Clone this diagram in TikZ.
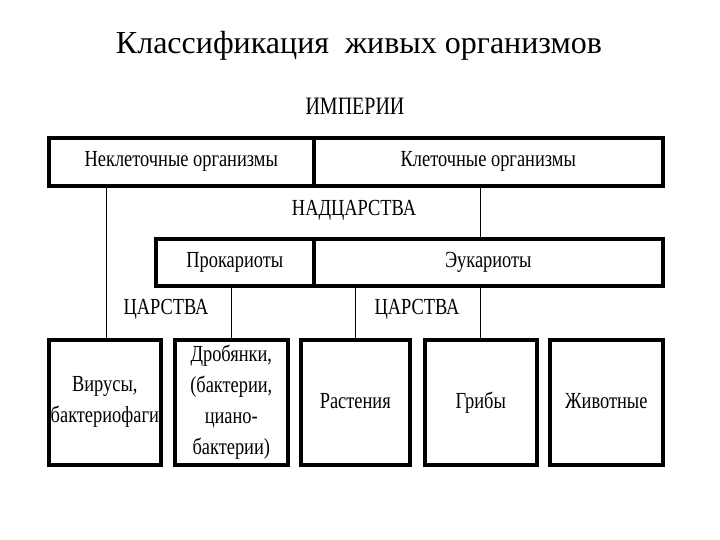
\documentclass[tikz,border=0pt]{standalone}
\usepackage{fontspec}
\setmainfont{Liberation Serif}
\newfontfamily\diagfont[FakeStretch=0.8]{Liberation Serif}
\begin{document}
\begin{tikzpicture}[x=1pt,y=-1pt,
  box/.style={draw=black, line width=3.6pt, inner sep=0pt, align=center, anchor=north west,
    font=\diagfont\fontsize{23}{31}\selectfont},
  lbl/.style={inner sep=0pt, font=\diagfont\fontsize{23}{26}\selectfont},
  conn/.style={draw=black, line width=1.3pt}]
\useasboundingbox (0,0) rectangle (720,540);
\node[font=\fontsize{32}{36}\selectfont] (title) at (359,46) {Классификация\ \ живых организмов};
\node[lbl, font=\diagfont\fontsize{25}{28}\selectfont] (imp) at (355,106) {ИМПЕРИИ};
% top row
\node[box, minimum width=265pt, minimum height=48pt] (noncell) at (47,136) {Неклеточные организмы};
\node[box, minimum width=349pt, minimum height=48pt] (cell) at (312,136) {Клеточные организмы};
\node[lbl] (nadc) at (354,210) {НАДЦАРСТВА};
% second row
\node[box, minimum width=158pt, minimum height=47pt] (prok) at (154,237) {Прокариоты};
\node[box, minimum width=349pt, minimum height=47pt] (euk) at (312,237) {Эукариоты};
\node[lbl] (carL) at (166,309) {ЦАРСТВА};
\node[lbl] (carR) at (417,309) {ЦАРСТВА};
% bottom row
\node[box, minimum width=112pt, minimum height=125pt] (vir) at (47,338) {Вирусы,\\бактериофаги};
\node[box, minimum width=113pt, minimum height=125pt] (drob) at (173,338) {Дробянки,\\(бактерии,\\циано-\\бактерии)};
\node[box, minimum width=109pt, minimum height=125pt] (rast) at (299,338) {\strut Растения};
\node[box, minimum width=112pt, minimum height=125pt] (grib) at (423,338) {\strut Грибы};
\node[box, minimum width=113pt, minimum height=125pt] (zhiv) at (548,338) {\strut Животные};
% connectors
\draw[conn] ([xshift=2pt]vir.north |- noncell.south) -- ([xshift=2pt]vir.north);
\draw[conn] (grib.north |- cell.south) -- (grib.north |- euk.north);
\draw[conn] (drob.north |- prok.south) -- (drob.north);
\draw[conn] (rast.north |- euk.south) -- (rast.north);
\draw[conn] (grib.north |- euk.south) -- (grib.north);
\end{tikzpicture}
\end{document}
